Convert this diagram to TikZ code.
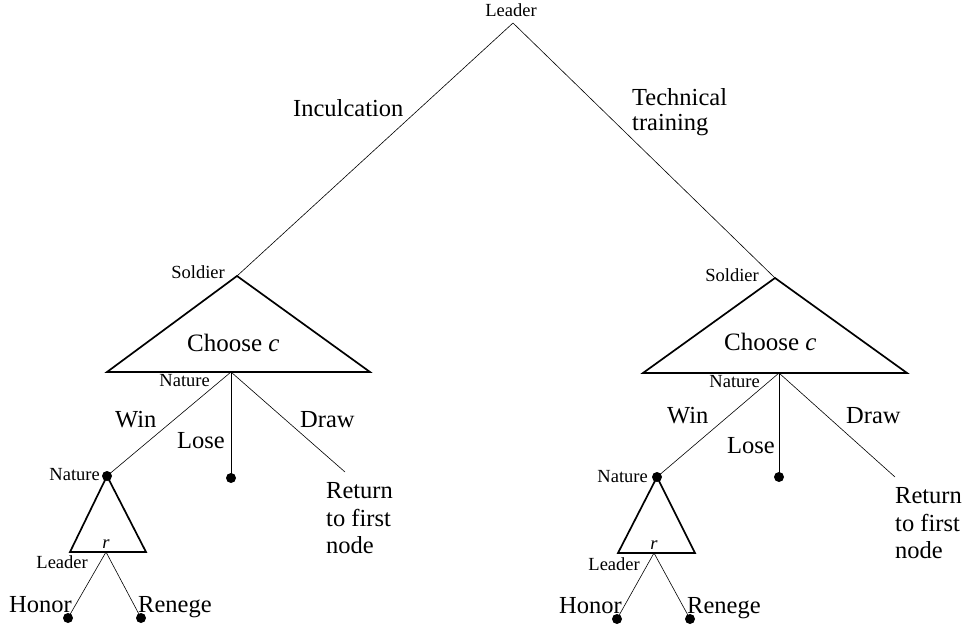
\documentclass[tikz,border=0pt]{standalone}
\usepackage{fontspec}
\setmainfont{Liberation Serif}
\begin{document}
\begin{tikzpicture}[x=1pt,y=-1pt,
  edge/.style={line width=0.6pt},
  tri/.style={line width=1.7pt,line join=miter},
  dot/.style={circle,fill=black,inner sep=0pt,minimum size=10pt},
  small/.style={font=\fontsize{18.5}{20}\selectfont,inner sep=0pt},
  big/.style={font=\fontsize{24.5}{28}\selectfont,inner sep=0pt}]
\useasboundingbox (0,0) rectangle (967,628);
% root
\coordinate (root) at (513,23);
\node[small,anchor=base] (lroot) at (511,17) {Leader};
\coordinate (sL) at (237,276);
\coordinate (sR) at (775,278);
\draw[edge] (root) -- (sL);
\draw[edge] (root) -- (sR);
\node[big,anchor=base west] (inc) at (293,117) {Inculcation};
\node[big,anchor=base west] (tech1) at (632,106) {Technical};
\node[big,anchor=base west] (tech2) at (632,131) {training};
% ---------- left subtree
\coordinate (bLl) at (107,372);
\coordinate (bLr) at (370,372);
\draw[tri] (sL) -- (bLl) -- (bLr) -- cycle;
\node[small,anchor=base east] (solL) at (225,279) {Soldier};
\node[font=\fontsize{25}{28}\selectfont,anchor=base west,inner sep=0pt] (chL) at (187,352) {Choose \textit{c}};
\coordinate (natL) at (231,372);
\node[small,anchor=base east] (natlabL) at (210,387) {Nature};
\node[dot] (winL) at (107,476) {};
\node[dot] (loseL) at (231,478) {};
\coordinate (drawL) at (345,472);
\draw[edge] (natL) -- (winL.center);
\draw[edge] (natL) -- (loseL.center);
\draw[edge] (natL) -- (drawL);
\node[big,anchor=base west] (wintL) at (115,427) {Win};
\node[big,anchor=base west] (losetL) at (177,448) {Lose};
\node[big,anchor=base west] (drawtL) at (300,427) {Draw};
\node[big,anchor=base west] (retL1) at (326,498) {Return};
\node[big,anchor=base west] (retL2) at (326,526) {to first};
\node[big,anchor=base west] (retL3) at (326,553) {node};
\node[small,anchor=base east] (natwL) at (100,480) {Nature};
\coordinate (tLl) at (70,552);
\coordinate (tLr) at (146,552);
\draw[tri] (winL.center) -- (tLl) -- (tLr) -- cycle;
\node[font=\fontsize{18.5}{20}\selectfont\itshape,anchor=base,inner sep=0pt] (rL) at (106,548) {r};
\coordinate (ldL) at (106,552);
\node[small,anchor=base east] (ldtL) at (88,568) {Leader};
\node[dot] (honL) at (68,618) {};
\node[dot] (renL) at (141,618) {};
\draw[edge] (ldL) -- (honL.center);
\draw[edge] (ldL) -- (renL.center);
\node[big,anchor=base west] (hontL) at (9,612) {Honor};
\node[big,anchor=base west] (rentL) at (138,612) {Renege};
% ---------- right subtree
\coordinate (bRl) at (643,373);
\coordinate (bRr) at (907,373);
\draw[tri] (sR) -- (bRl) -- (bRr) -- cycle;
\node[small,anchor=base east] (solR) at (759,282) {Soldier};
\node[font=\fontsize{25}{28}\selectfont,anchor=base west,inner sep=0pt] (chR) at (724,351) {Choose \textit{c}};
\coordinate (natR) at (779,373);
\node[small,anchor=base east] (natlabR) at (760,388) {Nature};
\node[dot] (winR) at (657,477) {};
\node[dot] (loseR) at (779,477) {};
\coordinate (drawR) at (895,477);
\draw[edge] (natR) -- (winR.center);
\draw[edge] (natR) -- (loseR.center);
\draw[edge] (natR) -- (drawR);
\node[big,anchor=base west] (wintR) at (667,424) {Win};
\node[big,anchor=base west] (losetR) at (727,453) {Lose};
\node[big,anchor=base west] (drawtR) at (846,424) {Draw};
\node[big,anchor=base west] (retR1) at (895,503) {Return};
\node[big,anchor=base west] (retR2) at (895,531) {to first};
\node[big,anchor=base west] (retR3) at (895,558) {node};
\node[small,anchor=base east] (natwR) at (648,482) {Nature};
\coordinate (tRl) at (618,553);
\coordinate (tRr) at (695,553);
\draw[tri] (winR.center) -- (tRl) -- (tRr) -- cycle;
\node[font=\fontsize{18.5}{20}\selectfont\itshape,anchor=base,inner sep=0pt] (rR) at (654,549) {r};
\coordinate (ldR) at (654,553);
\node[small,anchor=base east] (ldtR) at (640,570) {Leader};
\node[dot] (honR) at (617,619) {};
\node[dot] (renR) at (690,619) {};
\draw[edge] (ldR) -- (honR.center);
\draw[edge] (ldR) -- (renR.center);
\node[big,anchor=base east] (hontR) at (622,613) {Honor};
\node[big,anchor=base west] (rentR) at (687,613) {Renege};
\end{tikzpicture}
\end{document}
